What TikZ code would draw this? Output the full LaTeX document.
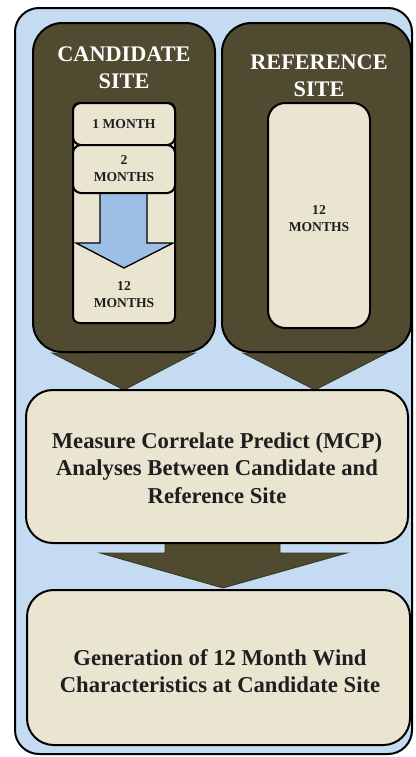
\documentclass[tikz,border=0pt]{standalone}
\usepackage{fontspec}
\setmainfont{Liberation Serif}
\usetikzlibrary{fit}
\definecolor{bgblue}{HTML}{C5DBF2}
\definecolor{olive}{HTML}{4F4A30}
\definecolor{cream}{HTML}{EAE5D1}
\definecolor{arrblue}{HTML}{9DBFE6}
\definecolor{txt}{HTML}{1F1F1F}
\tikzset{
  panel/.style={draw=black, line width=1.5pt, fill=olive, rounded corners=22pt, inner sep=0pt},
  cbox/.style={draw=black, line width=1.5pt, fill=cream, inner sep=0pt},
  bigarrow/.style={fill=olive, draw=olive!70!black, line width=0.6pt},
  titletext/.style={text=white, font=\bfseries\fontsize{16.7}{20}\selectfont, align=center, inner sep=0pt},
  smalltext/.style={text=txt, font=\bfseries\fontsize{10.2}{12.75}\selectfont, align=center, inner sep=0pt},
  bigtext/.style={text=txt, font=\bfseries\fontsize{17}{20.5}\selectfont, align=center, inner sep=0pt}
}
\begin{document}
\begin{tikzpicture}[x=0.75pt,y=-0.75pt]
\useasboundingbox (0,0) rectangle (415,757);
% outer frame
\node[draw=black, line width=1.5pt, fill=bgblue, rounded corners=18pt, inner sep=0pt, fit={(15,8) (412,754)}] (frame) {};
% arrows from panels to MCP
\draw[bigarrow] (90,340) -- (160,340) -- (160,353) -- (195,353) -- (124,390) -- (52,353) -- (90,353) -- cycle;
\draw[bigarrow] (279,340) -- (348,340) -- (348,353) -- (387,353) -- (315,390) -- (243,353) -- (279,353) -- cycle;
% arrow from MCP to final
\draw[bigarrow] (165,535) -- (280,535) -- (280,553) -- (347,553) -- (223,588) -- (100,553) -- (165,553) -- cycle;
% panels
\node[panel, fit={(33,23) (215,352)}] (cand) {};
\node[panel, fit={(222,23) (411,352)}] (ref) {};
\node[titletext] (candt) at (124,68) {CANDIDATE\\SITE};
\node[titletext] (reft) at (319,76) {REFERENCE\\SITE};
% candidate inner column
\node[cbox, rounded corners=5pt, fit={(73,103) (175,323)}] (c12) {};
\node[cbox, rounded corners=6pt, fit={(73,103) (175,145)}] (c1) {};
\draw[fill=arrblue, draw=black, line width=1pt] (100,190) -- (147,190) -- (147,243) -- (173,243) -- (124,268) -- (76,243) -- (100,243) -- cycle;
\node[cbox, rounded corners=6pt, fit={(73,145) (175,193)}] (c2) {};
\node[smalltext] at (c1.center) {1 MONTH};
\node[smalltext] at (124,169) {2\\MONTHS};
\node[smalltext] at (124,295) {12\\MONTHS};
% reference inner box
\node[cbox, rounded corners=13pt, fit={(268,103) (370,328)}] (r12) {};
\node[smalltext] at (319,219) {12\\MONTHS};
% MCP box
\node[cbox, rounded corners=20pt, fit={(26,390) (408,543)}] (mcp) {};
\node[bigtext] at (217,468) {Measure Correlate Predict (MCP)\\Analyses Between Candidate and\\Reference Site};
% final box
\node[cbox, rounded corners=20pt, fit={(27,590) (410,745)}] (final) {};
\node[bigtext] at (220,671) {Generation of 12 Month Wind\\Characteristics at Candidate Site};
\end{tikzpicture}
\end{document}
